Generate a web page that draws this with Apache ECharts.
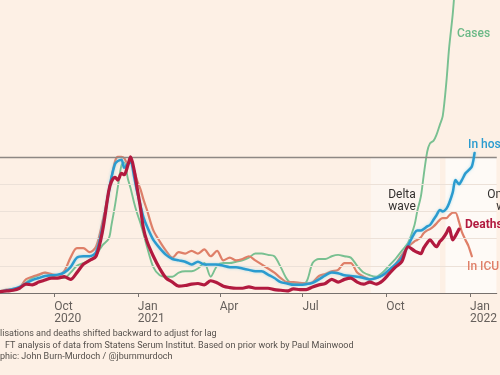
<!DOCTYPE html>
<html>
<head>
<meta charset="utf-8">
<script src="https://cdn.jsdelivr.net/npm/echarts@6/dist/echarts.min.js"></script>
<style>
  html, body { margin: 0; padding: 0; background: #fdf0e5; }
  #chart { width: 500px; height: 375px; }
</style>
</head>
<body>
<div id="chart"></div>
<script>
// Weekly readings (plus a few mid-week points around the peaks), % of winter 2020/21 peak
const dates = [
  '2020-08-03','2020-08-10','2020-08-17','2020-08-24','2020-08-31','2020-09-07','2020-09-14','2020-09-21',
  '2020-09-28','2020-10-05','2020-10-12','2020-10-19','2020-10-26','2020-11-02','2020-11-09','2020-11-16',
  '2020-11-23','2020-11-30','2020-12-03','2020-12-07','2020-12-10','2020-12-14','2020-12-17','2020-12-21',
  '2020-12-24','2020-12-28','2020-12-31','2021-01-04','2021-01-07','2021-01-11','2021-01-18','2021-01-25',
  '2021-02-01','2021-02-08','2021-02-15','2021-02-22','2021-03-01','2021-03-08','2021-03-15','2021-03-22',
  '2021-03-29','2021-04-05','2021-04-12','2021-04-19','2021-04-26','2021-05-03','2021-05-10','2021-05-17',
  '2021-05-24','2021-05-31','2021-06-07','2021-06-14','2021-06-21','2021-06-28','2021-07-05','2021-07-12',
  '2021-07-19','2021-07-26','2021-08-02','2021-08-09','2021-08-16','2021-08-23','2021-08-30','2021-09-06',
  '2021-09-13','2021-09-20','2021-09-27','2021-10-04','2021-10-11','2021-10-18','2021-10-25','2021-11-01',
  '2021-11-04','2021-11-08','2021-11-11','2021-11-15','2021-11-18','2021-11-22','2021-11-25','2021-11-29',
  '2021-12-02','2021-12-06','2021-12-09','2021-12-13','2021-12-16','2021-12-20','2021-12-23','2021-12-27',
  '2021-12-30','2022-01-03','2022-01-06'
];

const cases = [
  1, 1.5, 2.5, 3.5, 7.5, 11, 13, 15,
  13, 11, 11, 15, 20, 22, 24, 28,
  35, 40, 50, 65, 78, 94, 96, 84,
  77, 66, 59, 51, 44, 34, 19, 13,
  12, 12, 15, 16, 16, 18, 22, 12,
  20, 22, 22, 23, 24, 26, 29, 29,
  28, 27, 19, 10, 7, 7, 8, 22,
  25, 25, 27, 28, 27, 26, 20, 15,
  13, 12, 15, 20, 25, 31, 37, 50,
  60, 71, 86, 104, 110, 112, 116, 124,
  130, 155, 180, 205, 230, 260, null, null,
  null, null, null
];

const hospital = [
  1, 2, 3, 4.5, 7, 9.5, 11, 12.5,
  13, 13.5, 15, 19, 26, 27, 27, 30,
  48, 74, 85, 95, 97, 98, 92, 95,
  96, 85, 75, 64, 56, 49, 39, 33,
  28, 25, 24, 23, 21, 23, 21, 21,
  21, 20, 19, 19, 18, 17, 16, 16,
  13.5, 11, 8, 7, 6, 6, 6.5, 7.5,
  10, 13, 15, 14.5, 13, 12.5, 12, 11,
  10, 11, 13, 17, 21, 26, 35, 44,
  46, 46, 47, 49, 50, 54, 57, 61,
  60, 62, 66, 74, 83, 80, 83, 88,
  90, 93, 103
];

const icu = [
  1.5, 2.5, 3, 4, 10, 12, 13.5, 15,
  14, 13, 16, 26, 33, 33, 30, 34,
  52, 75, 85, 97, 100, 100, 99, 95,
  97, 90, 83, 76, 69, 61, 46, 38,
  31, 26, 30, 29, 31, 29, 32, 27,
  31, 24, 26, 24, 25, 27, 24, 21,
  18, 15, 11, 8, 8, 7.5, 7, 8,
  12.5, 14, 16, 17, 22, 22, 15, 12,
  10, 11, 13, 16, 21, 28, 34, 38,
  39, 41, 44, 46, 47, 49, 51, 54,
  55, 55, 57, 59, 59, 52, 45, 39,
  35, 27, null
];

const deaths = [
  1, 1.5, 2, 3.5, 6.5, 6, 8, 9.5,
  11, 11, 12, 10, 15, 21, 24, 27,
  45, 75, 82, 85, 83, 88, 87, 94,
  100, 90, 78, 62, 48, 38, 27, 18,
  11, 8, 5, 5.5, 6.5, 7, 6, 9,
  7.5, 5, 4, 3.5, 3.5, 4.5, 3.5, 3.5,
  3.5, 2.5, 2, 1.5, 3, 2.5, 2.5, 4.5,
  6, 7, 10, 8, 10, 11, 8, 6.5,
  8, 6.5, 9, 14, 19, 23, 34, 31,
  30, 29, 33, 37, 39, 36, 34, 38,
  40, 44, 48, 39, 42, 47, null, null,
  null, null, null
];

const tickDates = ['2020-10-01', '2021-01-01', '2021-04-01', '2021-07-01', '2021-10-01', '2022-01-01'];
const tickLabels = ['Oct\n2020', 'Jan\n2021', 'Apr', 'Jul', 'Oct', 'Jan\n2022'];
const gridValues = [20, 40, 60, 80];
const deltaWave = ['2021-09-14', '2021-11-29'];
const omicronWave = ['2021-12-05', '2022-01-30'];

// x axis counts days since 1 Aug 2020
const EPOCH = Date.UTC(2020, 7, 1);
function dayOf(s) {
  const [y, m, d] = s.split('-').map(Number);
  return (Date.UTC(y, m - 1, d) - EPOCH) / 86400000;
}
const tickDays = tickDates.map(dayOf);
const labelFor = {};
tickDays.forEach((d, i) => { labelFor[d] = tickLabels[i]; });

function pairs(values) {
  return dates.map((s, i) => [dayOf(s), values[i]]);
}

const chart = echarts.init(document.getElementById('chart'), null, { renderer: 'canvas' });

const FONT = 'Roboto, "Noto Sans", sans-serif';

function lineSeries(name, values, color, width, z, extra) {
  return {
    name,
    type: 'line',
    data: pairs(values),
    showSymbol: false,
    symbol: 'none',
    smooth: 0.3,
    connectNulls: false,
    z,
    lineStyle: Object.assign({ color, width, join: 'round', cap: 'round' }, extra || {}),
    emphasis: { disabled: true }
  };
}

function note(x, y, text, fill, weight, align) {
  return {
    type: 'text', x, y, z: 100,
    style: {
      text, fill,
      font: (weight || 'normal') + ' 12px ' + FONT,
      textAlign: align || 'left',
      textVerticalAlign: 'middle',
      lineHeight: 12
    }
  };
}

function footer(x, y, text) {
  return {
    type: 'text', x, y, z: 100,
    style: { text, fill: '#55504c', font: '9px ' + FONT, textVerticalAlign: 'middle' }
  };
}

chart.setOption({
  backgroundColor: '#fdf0e5',
  animation: false,
  grid: { left: 0, right: 0, top: 0, bottom: 82, containLabel: false },
  xAxis: {
    type: 'value',
    min: 1.49,
    max: 547.4,
    splitLine: { show: false },
    axisLine: { show: true, lineStyle: { color: '#77716d', width: 1 } },
    axisTick: { show: true, customValues: tickDays, length: 4, lineStyle: { color: '#77716d' } },
    axisLabel: {
      customValues: tickDays,
      formatter: v => labelFor[v] || '',
      align: 'left',
      margin: 8,
      color: '#66605c',
      fontSize: 12,
      lineHeight: 12,
      fontFamily: FONT
    }
  },
  yAxis: {
    type: 'value',
    min: 0,
    max: 215.4,
    show: false,
    splitLine: { show: false }
  },
  series: [
    {
      type: 'line',
      data: [],
      z: 1,
      silent: true,
      markArea: {
        silent: true,
        label: { show: false },
        data: [
          [{ xAxis: dayOf(deltaWave[0]), yAxis: 0, itemStyle: { color: '#fdf6f0' } }, { xAxis: dayOf(deltaWave[1]), yAxis: 100 }],
          [{ xAxis: dayOf(omicronWave[0]), yAxis: 0, itemStyle: { color: '#fefaf6' } }, { xAxis: dayOf(omicronWave[1]), yAxis: 100 }]
        ]
      }
    },
    {
      type: 'line',
      data: [],
      z: 2,
      silent: true,
      markLine: {
        silent: true,
        symbol: 'none',
        label: { show: false },
        data: gridValues.map(v => ({ yAxis: v, lineStyle: { color: '#ece1d8', width: 1, type: 'solid' } }))
          .concat([{ yAxis: 100, lineStyle: { color: '#8e8884', width: 1.3, type: 'solid' } }])
      }
    },
    lineSeries('Cases', cases, '#79c091', 1.9, 3),
    lineSeries('In ICU', icu, '#df7f68', 2.2, 4),
    lineSeries('In hospital', hospital, '#2b9bcf', 2.5, 5, { shadowColor: 'rgba(110,205,235,0.55)', shadowBlur: 3 }),
    lineSeries('Deaths', deaths, '#b21a3f', 3.2, 6)
  ],
  graphic: [
    note(457, 34, 'Cases', '#6cb987', '500'),
    note(468, 145, 'In hospital', '#2a9bcf', '500'),
    note(465, 225, 'Deaths', '#b21a3f', 'bold'),
    note(467, 267, 'In ICU', '#df7f68', '500'),
    note(402, 201, 'Delta\nwave', '#33302e', 'normal', 'center'),
    note(510, 201, 'Omicron\nwave', '#33302e', 'normal', 'center'),
    footer(0, 334, 'lisations and deaths shifted backward to adjust for lag'),
    footer(5, 346, 'FT analysis of data from Statens Serum Institut. Based on prior work by Paul Mainwood'),
    footer(0, 357, 'phic: John Burn-Murdoch / @jburnmurdoch')
  ]
});
</script>
</body>
</html>
